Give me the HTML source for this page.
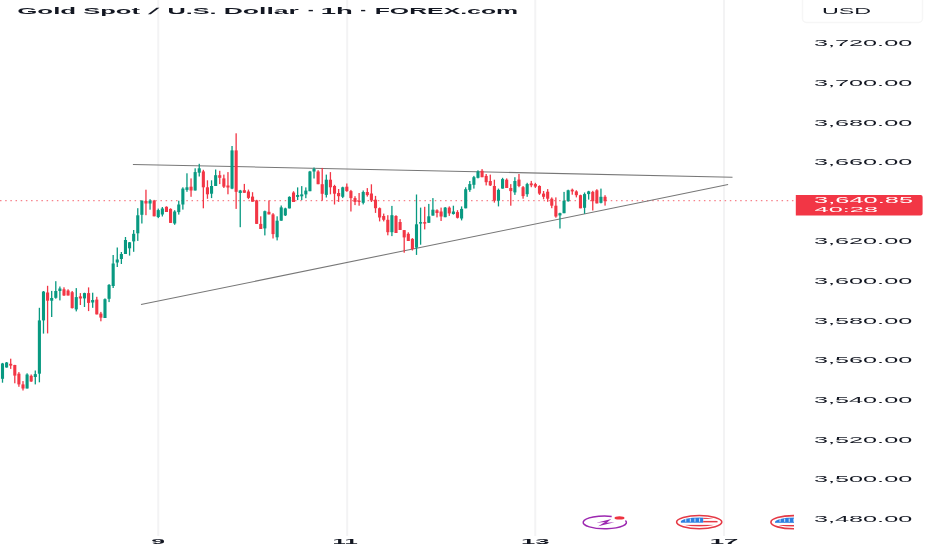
<!DOCTYPE html>
<html><head><meta charset="utf-8"><style>
html,body{margin:0;padding:0;background:#fff;width:932px;height:550px;overflow:hidden}
svg{position:absolute;left:0;top:0}
.t{position:absolute;left:0;top:0;transform-origin:0 0;white-space:pre;font-family:"Liberation Sans",Arial,sans-serif;font-size:100.0px;line-height:1}
#wrap{position:absolute;left:0;top:0;width:932px;height:550px;overflow:hidden;filter:blur(0.4px)}
</style></head><body><div id="wrap">
<svg width="932" height="550" viewBox="0 0 932 550">
<rect x="157.30" y="0" width="2.0" height="536" fill="#f3f3f4"/>
<rect x="346.20" y="0" width="2.0" height="536" fill="#f3f3f4"/>
<rect x="534.30" y="0" width="2.0" height="536" fill="#f3f3f4"/>
<rect x="723.00" y="0" width="2.0" height="536" fill="#f3f3f4"/>
<line x1="0" y1="200.7" x2="794" y2="200.7" stroke="#F23645" stroke-width="1.2" stroke-dasharray="1.5 3.676" opacity="0.62"/>
<line x1="132.9" y1="164.4" x2="732.5" y2="177.2" stroke="#777" stroke-width="1.05"/>
<line x1="141" y1="304.6" x2="728.1" y2="184.5" stroke="#777" stroke-width="1.05"/>
<rect x="1.85" y="362.9" width="1.3" height="19.8" fill="#089981"/>
<rect x="0.95" y="363.5" width="3.1" height="15.3" fill="#089981"/>
<rect x="5.95" y="362.0" width="1.3" height="5.6" fill="#089981"/>
<rect x="5.05" y="362.5" width="3.1" height="5.0" fill="#089981"/>
<rect x="10.05" y="358.7" width="1.3" height="10.2" fill="#F23645"/>
<rect x="9.15" y="363.8" width="3.1" height="1.8" fill="#F23645"/>
<rect x="14.15" y="364.8" width="1.3" height="18.5" fill="#F23645"/>
<rect x="13.25" y="365.0" width="3.1" height="10.6" fill="#F23645"/>
<rect x="18.25" y="372.1" width="1.3" height="14.7" fill="#F23645"/>
<rect x="17.35" y="373.7" width="3.1" height="10.7" fill="#F23645"/>
<rect x="22.35" y="381.1" width="1.3" height="9.4" fill="#F23645"/>
<rect x="21.45" y="384.4" width="3.1" height="4.1" fill="#F23645"/>
<rect x="26.44" y="373.3" width="1.3" height="15.2" fill="#089981"/>
<rect x="25.54" y="374.5" width="3.1" height="14.0" fill="#089981"/>
<rect x="30.54" y="374.5" width="1.3" height="7.4" fill="#F23645"/>
<rect x="29.64" y="375.8" width="3.1" height="5.7" fill="#F23645"/>
<rect x="34.64" y="370.5" width="1.3" height="13.9" fill="#089981"/>
<rect x="33.74" y="374.1" width="3.1" height="2.9" fill="#089981"/>
<rect x="38.74" y="307.8" width="1.3" height="74.5" fill="#089981"/>
<rect x="37.84" y="320.4" width="3.1" height="53.3" fill="#089981"/>
<rect x="42.84" y="291.0" width="1.3" height="42.6" fill="#089981"/>
<rect x="41.94" y="291.6" width="3.1" height="28.8" fill="#089981"/>
<rect x="46.94" y="285.8" width="1.3" height="47.6" fill="#F23645"/>
<rect x="46.04" y="292.5" width="3.1" height="8.2" fill="#F23645"/>
<rect x="51.04" y="290.9" width="1.3" height="26.1" fill="#089981"/>
<rect x="50.14" y="298.0" width="3.1" height="2.7" fill="#089981"/>
<rect x="55.14" y="281.2" width="1.3" height="17.5" fill="#089981"/>
<rect x="54.24" y="291.0" width="3.1" height="6.8" fill="#089981"/>
<rect x="59.24" y="286.5" width="1.3" height="13.9" fill="#089981"/>
<rect x="58.34" y="288.5" width="3.1" height="2.5" fill="#089981"/>
<rect x="63.34" y="287.3" width="1.3" height="8.6" fill="#F23645"/>
<rect x="62.44" y="289.3" width="3.1" height="6.2" fill="#F23645"/>
<rect x="67.43" y="289.3" width="1.3" height="6.2" fill="#F23645"/>
<rect x="66.53" y="290.5" width="3.1" height="5.0" fill="#F23645"/>
<rect x="71.53" y="291.0" width="1.3" height="17.5" fill="#F23645"/>
<rect x="70.63" y="292.2" width="3.1" height="15.9" fill="#F23645"/>
<rect x="75.63" y="288.1" width="1.3" height="23.3" fill="#089981"/>
<rect x="74.73" y="297.1" width="3.1" height="12.3" fill="#089981"/>
<rect x="79.73" y="293.1" width="1.3" height="11.9" fill="#F23645"/>
<rect x="78.83" y="296.4" width="3.1" height="2.1" fill="#F23645"/>
<rect x="83.83" y="292.7" width="1.3" height="14.3" fill="#089981"/>
<rect x="82.93" y="293.1" width="3.1" height="5.3" fill="#089981"/>
<rect x="87.93" y="287.4" width="1.3" height="23.7" fill="#F23645"/>
<rect x="87.03" y="293.1" width="3.1" height="9.8" fill="#F23645"/>
<rect x="92.03" y="292.7" width="1.3" height="15.1" fill="#089981"/>
<rect x="91.13" y="300.0" width="3.1" height="2.5" fill="#089981"/>
<rect x="96.13" y="296.8" width="1.3" height="17.6" fill="#F23645"/>
<rect x="95.23" y="299.6" width="3.1" height="14.8" fill="#F23645"/>
<rect x="100.23" y="311.9" width="1.3" height="9.4" fill="#F23645"/>
<rect x="99.33" y="313.6" width="3.1" height="4.0" fill="#F23645"/>
<rect x="104.33" y="298.4" width="1.3" height="19.6" fill="#089981"/>
<rect x="103.43" y="299.2" width="3.1" height="18.8" fill="#089981"/>
<rect x="108.42" y="284.1" width="1.3" height="18.0" fill="#089981"/>
<rect x="107.52" y="284.9" width="3.1" height="13.9" fill="#089981"/>
<rect x="112.52" y="255.0" width="1.3" height="33.0" fill="#089981"/>
<rect x="111.62" y="263.5" width="3.1" height="22.5" fill="#089981"/>
<rect x="116.62" y="247.5" width="1.3" height="19.5" fill="#089981"/>
<rect x="115.72" y="259.5" width="3.1" height="3.0" fill="#089981"/>
<rect x="120.72" y="252.0" width="1.3" height="12.0" fill="#089981"/>
<rect x="119.82" y="254.0" width="3.1" height="5.0" fill="#089981"/>
<rect x="124.82" y="237.0" width="1.3" height="17.0" fill="#089981"/>
<rect x="123.92" y="240.0" width="3.1" height="14.0" fill="#089981"/>
<rect x="128.92" y="242.0" width="1.3" height="13.6" fill="#089981"/>
<rect x="128.02" y="242.3" width="3.1" height="6.0" fill="#089981"/>
<rect x="133.02" y="230.0" width="1.3" height="21.8" fill="#089981"/>
<rect x="132.12" y="233.8" width="3.1" height="7.6" fill="#089981"/>
<rect x="137.12" y="208.2" width="1.3" height="32.7" fill="#089981"/>
<rect x="136.22" y="215.3" width="3.1" height="18.0" fill="#089981"/>
<rect x="141.22" y="200.5" width="1.3" height="23.0" fill="#089981"/>
<rect x="140.32" y="200.6" width="3.1" height="14.2" fill="#089981"/>
<rect x="145.31" y="189.7" width="1.3" height="25.5" fill="#F23645"/>
<rect x="144.41" y="201.0" width="3.1" height="2.5" fill="#F23645"/>
<rect x="149.41" y="199.2" width="1.3" height="10.5" fill="#089981"/>
<rect x="148.51" y="200.6" width="3.1" height="2.9" fill="#089981"/>
<rect x="153.51" y="199.9" width="1.3" height="16.4" fill="#F23645"/>
<rect x="152.61" y="200.6" width="3.1" height="15.7" fill="#F23645"/>
<rect x="157.61" y="208.6" width="1.3" height="9.5" fill="#089981"/>
<rect x="156.71" y="210.1" width="3.1" height="6.9" fill="#089981"/>
<rect x="161.71" y="207.0" width="1.3" height="9.5" fill="#089981"/>
<rect x="160.81" y="208.5" width="3.1" height="6.0" fill="#089981"/>
<rect x="165.81" y="206.3" width="1.3" height="5.7" fill="#F23645"/>
<rect x="164.91" y="206.8" width="3.1" height="5.2" fill="#F23645"/>
<rect x="169.91" y="208.3" width="1.3" height="14.6" fill="#F23645"/>
<rect x="169.01" y="208.9" width="3.1" height="14.0" fill="#F23645"/>
<rect x="174.01" y="210.2" width="1.3" height="14.6" fill="#089981"/>
<rect x="173.11" y="211.5" width="3.1" height="12.0" fill="#089981"/>
<rect x="178.11" y="200.7" width="1.3" height="13.9" fill="#089981"/>
<rect x="177.21" y="204.5" width="3.1" height="7.6" fill="#089981"/>
<rect x="182.21" y="187.3" width="1.3" height="22.3" fill="#089981"/>
<rect x="181.31" y="188.6" width="3.1" height="15.9" fill="#089981"/>
<rect x="186.31" y="173.3" width="1.3" height="18.5" fill="#089981"/>
<rect x="185.41" y="187.3" width="3.1" height="2.6" fill="#089981"/>
<rect x="190.40" y="178.4" width="1.3" height="18.4" fill="#F23645"/>
<rect x="189.50" y="186.7" width="3.1" height="3.8" fill="#F23645"/>
<rect x="194.50" y="168.3" width="1.3" height="22.2" fill="#089981"/>
<rect x="193.60" y="172.1" width="3.1" height="18.4" fill="#089981"/>
<rect x="198.60" y="163.8" width="1.3" height="12.7" fill="#089981"/>
<rect x="197.70" y="168.3" width="3.1" height="4.4" fill="#089981"/>
<rect x="202.70" y="169.8" width="1.3" height="38.5" fill="#F23645"/>
<rect x="201.80" y="171.4" width="3.1" height="15.9" fill="#F23645"/>
<rect x="206.80" y="180.3" width="1.3" height="18.5" fill="#F23645"/>
<rect x="205.90" y="187.3" width="3.1" height="7.0" fill="#F23645"/>
<rect x="210.90" y="180.3" width="1.3" height="17.8" fill="#089981"/>
<rect x="210.00" y="186.0" width="3.1" height="7.7" fill="#089981"/>
<rect x="215.00" y="169.5" width="1.3" height="16.5" fill="#089981"/>
<rect x="214.10" y="175.2" width="3.1" height="10.8" fill="#089981"/>
<rect x="219.10" y="170.8" width="1.3" height="13.3" fill="#F23645"/>
<rect x="218.20" y="175.2" width="3.1" height="2.6" fill="#F23645"/>
<rect x="223.20" y="174.6" width="1.3" height="13.4" fill="#F23645"/>
<rect x="222.30" y="178.4" width="3.1" height="8.3" fill="#F23645"/>
<rect x="227.30" y="172.1" width="1.3" height="22.2" fill="#F23645"/>
<rect x="226.40" y="185.5" width="3.1" height="2.0" fill="#F23645"/>
<rect x="231.39" y="146.0" width="1.3" height="43.2" fill="#089981"/>
<rect x="230.49" y="150.4" width="3.1" height="38.2" fill="#089981"/>
<rect x="235.49" y="133.3" width="1.3" height="75.6" fill="#F23645"/>
<rect x="234.59" y="150.4" width="3.1" height="41.4" fill="#F23645"/>
<rect x="239.59" y="189.9" width="1.3" height="37.3" fill="#089981"/>
<rect x="238.69" y="190.5" width="3.1" height="2.5" fill="#089981"/>
<rect x="243.69" y="183.9" width="1.3" height="8.9" fill="#F23645"/>
<rect x="242.79" y="190.2" width="3.1" height="2.6" fill="#F23645"/>
<rect x="247.79" y="189.6" width="1.3" height="9.5" fill="#F23645"/>
<rect x="246.89" y="191.5" width="3.1" height="6.4" fill="#F23645"/>
<rect x="251.89" y="192.2" width="1.3" height="9.5" fill="#F23645"/>
<rect x="250.99" y="196.6" width="3.1" height="5.1" fill="#F23645"/>
<rect x="255.99" y="199.8" width="1.3" height="24.1" fill="#F23645"/>
<rect x="255.09" y="200.4" width="3.1" height="23.5" fill="#F23645"/>
<rect x="260.09" y="216.3" width="1.3" height="12.7" fill="#F23645"/>
<rect x="259.19" y="223.9" width="3.1" height="5.1" fill="#F23645"/>
<rect x="264.19" y="210.6" width="1.3" height="24.8" fill="#089981"/>
<rect x="263.29" y="211.2" width="3.1" height="17.2" fill="#089981"/>
<rect x="268.29" y="200.4" width="1.3" height="14.0" fill="#F23645"/>
<rect x="267.38" y="211.8" width="3.1" height="2.6" fill="#F23645"/>
<rect x="272.38" y="213.1" width="1.3" height="25.4" fill="#F23645"/>
<rect x="271.48" y="214.4" width="3.1" height="19.7" fill="#F23645"/>
<rect x="276.48" y="216.3" width="1.3" height="24.1" fill="#089981"/>
<rect x="275.58" y="220.7" width="3.1" height="16.6" fill="#089981"/>
<rect x="280.58" y="205.5" width="1.3" height="15.2" fill="#089981"/>
<rect x="279.68" y="207.4" width="3.1" height="13.3" fill="#089981"/>
<rect x="284.68" y="207.7" width="1.3" height="8.3" fill="#089981"/>
<rect x="283.78" y="208.4" width="3.1" height="7.0" fill="#089981"/>
<rect x="288.78" y="196.3" width="1.3" height="12.1" fill="#089981"/>
<rect x="287.88" y="196.9" width="3.1" height="11.5" fill="#089981"/>
<rect x="292.88" y="191.2" width="1.3" height="10.8" fill="#F23645"/>
<rect x="291.98" y="192.5" width="3.1" height="9.5" fill="#F23645"/>
<rect x="296.98" y="187.4" width="1.3" height="12.7" fill="#089981"/>
<rect x="296.08" y="195.0" width="3.1" height="1.9" fill="#089981"/>
<rect x="301.08" y="186.1" width="1.3" height="14.0" fill="#089981"/>
<rect x="300.18" y="194.4" width="3.1" height="1.9" fill="#089981"/>
<rect x="305.18" y="187.4" width="1.3" height="10.8" fill="#089981"/>
<rect x="304.28" y="190.6" width="3.1" height="3.8" fill="#089981"/>
<rect x="309.28" y="170.9" width="1.3" height="20.3" fill="#089981"/>
<rect x="308.38" y="171.5" width="3.1" height="19.7" fill="#089981"/>
<rect x="313.37" y="167.5" width="1.3" height="11.0" fill="#089981"/>
<rect x="312.47" y="169.0" width="3.1" height="2.5" fill="#089981"/>
<rect x="317.47" y="170.2" width="1.3" height="14.0" fill="#F23645"/>
<rect x="316.57" y="171.5" width="3.1" height="12.7" fill="#F23645"/>
<rect x="321.57" y="167.9" width="1.3" height="32.8" fill="#F23645"/>
<rect x="320.67" y="184.2" width="3.1" height="9.6" fill="#F23645"/>
<rect x="325.67" y="174.6" width="1.3" height="22.9" fill="#089981"/>
<rect x="324.77" y="179.7" width="3.1" height="15.2" fill="#089981"/>
<rect x="329.77" y="172.1" width="1.3" height="22.2" fill="#F23645"/>
<rect x="328.87" y="179.7" width="3.1" height="7.6" fill="#F23645"/>
<rect x="333.87" y="184.8" width="1.3" height="19.7" fill="#F23645"/>
<rect x="332.97" y="186.0" width="3.1" height="7.7" fill="#F23645"/>
<rect x="337.97" y="189.0" width="1.3" height="12.9" fill="#F23645"/>
<rect x="337.07" y="193.0" width="3.1" height="3.2" fill="#F23645"/>
<rect x="342.07" y="186.7" width="1.3" height="11.4" fill="#089981"/>
<rect x="341.17" y="187.3" width="3.1" height="9.5" fill="#089981"/>
<rect x="346.17" y="183.5" width="1.3" height="8.3" fill="#F23645"/>
<rect x="345.27" y="186.7" width="3.1" height="4.4" fill="#F23645"/>
<rect x="350.27" y="189.9" width="1.3" height="21.6" fill="#F23645"/>
<rect x="349.37" y="191.1" width="3.1" height="7.0" fill="#F23645"/>
<rect x="354.36" y="196.2" width="1.3" height="8.9" fill="#F23645"/>
<rect x="353.46" y="198.1" width="3.1" height="3.8" fill="#F23645"/>
<rect x="358.46" y="193.0" width="1.3" height="12.7" fill="#F23645"/>
<rect x="357.56" y="200.7" width="3.1" height="1.2" fill="#F23645"/>
<rect x="362.56" y="190.5" width="1.3" height="13.9" fill="#089981"/>
<rect x="361.66" y="192.0" width="3.1" height="10.8" fill="#089981"/>
<rect x="366.66" y="188.1" width="1.3" height="8.5" fill="#F23645"/>
<rect x="365.76" y="192.0" width="3.1" height="3.1" fill="#F23645"/>
<rect x="370.76" y="184.3" width="1.3" height="17.7" fill="#F23645"/>
<rect x="369.86" y="193.5" width="3.1" height="7.0" fill="#F23645"/>
<rect x="374.86" y="195.9" width="1.3" height="17.0" fill="#F23645"/>
<rect x="373.96" y="199.7" width="3.1" height="8.5" fill="#F23645"/>
<rect x="378.96" y="207.5" width="1.3" height="13.9" fill="#F23645"/>
<rect x="378.06" y="208.2" width="3.1" height="9.3" fill="#F23645"/>
<rect x="383.06" y="213.6" width="1.3" height="7.8" fill="#F23645"/>
<rect x="382.16" y="216.0" width="3.1" height="3.8" fill="#F23645"/>
<rect x="387.16" y="215.2" width="1.3" height="20.1" fill="#F23645"/>
<rect x="386.26" y="219.8" width="3.1" height="12.4" fill="#F23645"/>
<rect x="391.26" y="205.9" width="1.3" height="30.2" fill="#089981"/>
<rect x="390.36" y="215.2" width="3.1" height="17.0" fill="#089981"/>
<rect x="395.35" y="215.2" width="1.3" height="17.8" fill="#F23645"/>
<rect x="394.45" y="216.0" width="3.1" height="17.0" fill="#F23645"/>
<rect x="399.45" y="219.1" width="1.3" height="10.9" fill="#F23645"/>
<rect x="398.55" y="222.0" width="3.1" height="8.0" fill="#F23645"/>
<rect x="403.55" y="230.1" width="1.3" height="22.6" fill="#F23645"/>
<rect x="402.65" y="230.1" width="3.1" height="7.3" fill="#F23645"/>
<rect x="407.65" y="232.3" width="1.3" height="8.7" fill="#F23645"/>
<rect x="406.75" y="233.8" width="3.1" height="7.2" fill="#F23645"/>
<rect x="411.75" y="238.1" width="1.3" height="12.4" fill="#F23645"/>
<rect x="410.85" y="238.9" width="3.1" height="10.1" fill="#F23645"/>
<rect x="415.85" y="194.5" width="1.3" height="60.4" fill="#089981"/>
<rect x="414.95" y="224.3" width="3.1" height="23.3" fill="#089981"/>
<rect x="419.95" y="207.6" width="1.3" height="37.1" fill="#089981"/>
<rect x="419.05" y="222.1" width="3.1" height="1.5" fill="#089981"/>
<rect x="424.05" y="206.8" width="1.3" height="22.6" fill="#F23645"/>
<rect x="423.15" y="222.1" width="3.1" height="1.5" fill="#F23645"/>
<rect x="428.15" y="203.9" width="1.3" height="18.9" fill="#089981"/>
<rect x="427.25" y="216.3" width="3.1" height="6.5" fill="#089981"/>
<rect x="432.25" y="198.1" width="1.3" height="17.5" fill="#089981"/>
<rect x="431.35" y="209.7" width="3.1" height="5.9" fill="#089981"/>
<rect x="436.34" y="209.3" width="1.3" height="8.1" fill="#F23645"/>
<rect x="435.44" y="210.3" width="3.1" height="2.7" fill="#F23645"/>
<rect x="440.44" y="207.6" width="1.3" height="13.4" fill="#F23645"/>
<rect x="439.54" y="211.5" width="3.1" height="5.0" fill="#F23645"/>
<rect x="444.54" y="207.0" width="1.3" height="10.2" fill="#089981"/>
<rect x="443.64" y="207.6" width="3.1" height="9.6" fill="#089981"/>
<rect x="448.64" y="206.4" width="1.3" height="9.5" fill="#F23645"/>
<rect x="447.74" y="207.6" width="3.1" height="5.8" fill="#F23645"/>
<rect x="452.74" y="205.7" width="1.3" height="8.9" fill="#089981"/>
<rect x="451.84" y="211.5" width="3.1" height="2.5" fill="#089981"/>
<rect x="456.84" y="210.2" width="1.3" height="8.3" fill="#F23645"/>
<rect x="455.94" y="212.1" width="3.1" height="5.7" fill="#F23645"/>
<rect x="460.94" y="206.4" width="1.3" height="14.0" fill="#089981"/>
<rect x="460.04" y="208.9" width="3.1" height="9.6" fill="#089981"/>
<rect x="465.04" y="187.3" width="1.3" height="21.0" fill="#089981"/>
<rect x="464.14" y="189.2" width="3.1" height="19.1" fill="#089981"/>
<rect x="469.14" y="181.0" width="1.3" height="10.8" fill="#089981"/>
<rect x="468.24" y="184.1" width="3.1" height="5.8" fill="#089981"/>
<rect x="473.24" y="175.9" width="1.3" height="12.7" fill="#089981"/>
<rect x="472.34" y="177.2" width="3.1" height="7.6" fill="#089981"/>
<rect x="477.33" y="170.3" width="1.3" height="8.1" fill="#089981"/>
<rect x="476.43" y="171.5" width="3.1" height="6.3" fill="#089981"/>
<rect x="481.43" y="169.1" width="1.3" height="8.1" fill="#F23645"/>
<rect x="480.53" y="170.8" width="3.1" height="6.4" fill="#F23645"/>
<rect x="485.53" y="174.0" width="1.3" height="11.4" fill="#F23645"/>
<rect x="484.63" y="175.9" width="3.1" height="6.3" fill="#F23645"/>
<rect x="489.63" y="174.6" width="1.3" height="11.4" fill="#F23645"/>
<rect x="488.73" y="181.0" width="3.1" height="4.4" fill="#F23645"/>
<rect x="493.73" y="179.7" width="1.3" height="22.9" fill="#F23645"/>
<rect x="492.83" y="186.0" width="3.1" height="14.7" fill="#F23645"/>
<rect x="497.83" y="188.6" width="1.3" height="17.8" fill="#089981"/>
<rect x="496.93" y="189.9" width="3.1" height="10.8" fill="#089981"/>
<rect x="501.93" y="177.8" width="1.3" height="10.8" fill="#089981"/>
<rect x="501.03" y="179.1" width="3.1" height="9.5" fill="#089981"/>
<rect x="506.03" y="178.4" width="1.3" height="9.6" fill="#F23645"/>
<rect x="505.13" y="179.7" width="3.1" height="8.3" fill="#F23645"/>
<rect x="510.13" y="184.1" width="1.3" height="21.6" fill="#F23645"/>
<rect x="509.23" y="188.0" width="3.1" height="3.1" fill="#F23645"/>
<rect x="514.23" y="177.2" width="1.3" height="17.7" fill="#089981"/>
<rect x="513.33" y="181.0" width="3.1" height="11.4" fill="#089981"/>
<rect x="518.32" y="174.0" width="1.3" height="13.2" fill="#F23645"/>
<rect x="517.42" y="179.6" width="3.1" height="6.4" fill="#F23645"/>
<rect x="522.42" y="186.0" width="1.3" height="12.7" fill="#F23645"/>
<rect x="521.52" y="187.2" width="3.1" height="8.9" fill="#F23645"/>
<rect x="526.52" y="182.8" width="1.3" height="14.0" fill="#089981"/>
<rect x="525.62" y="184.1" width="3.1" height="10.1" fill="#089981"/>
<rect x="530.62" y="180.9" width="1.3" height="6.3" fill="#F23645"/>
<rect x="529.72" y="183.4" width="3.1" height="1.9" fill="#F23645"/>
<rect x="534.72" y="182.8" width="1.3" height="5.1" fill="#F23645"/>
<rect x="533.82" y="184.1" width="3.1" height="2.5" fill="#F23645"/>
<rect x="538.82" y="185.3" width="1.3" height="9.6" fill="#F23645"/>
<rect x="537.92" y="186.0" width="3.1" height="7.6" fill="#F23645"/>
<rect x="542.92" y="191.0" width="1.3" height="8.3" fill="#F23645"/>
<rect x="542.02" y="193.6" width="3.1" height="3.2" fill="#F23645"/>
<rect x="547.02" y="189.1" width="1.3" height="12.7" fill="#F23645"/>
<rect x="546.12" y="191.7" width="3.1" height="7.0" fill="#F23645"/>
<rect x="551.12" y="197.4" width="1.3" height="10.8" fill="#F23645"/>
<rect x="550.22" y="198.7" width="3.1" height="7.0" fill="#F23645"/>
<rect x="555.22" y="197.4" width="1.3" height="20.3" fill="#F23645"/>
<rect x="554.32" y="205.7" width="3.1" height="10.8" fill="#F23645"/>
<rect x="559.31" y="212.7" width="1.3" height="15.8" fill="#089981"/>
<rect x="558.41" y="213.2" width="3.1" height="2.2" fill="#089981"/>
<rect x="563.41" y="191.9" width="1.3" height="21.3" fill="#089981"/>
<rect x="562.51" y="200.7" width="3.1" height="12.5" fill="#089981"/>
<rect x="567.51" y="189.7" width="1.3" height="12.0" fill="#089981"/>
<rect x="566.61" y="190.3" width="3.1" height="10.9" fill="#089981"/>
<rect x="571.61" y="188.6" width="1.3" height="6.1" fill="#F23645"/>
<rect x="570.71" y="189.7" width="3.1" height="1.7" fill="#F23645"/>
<rect x="575.71" y="190.3" width="1.3" height="7.1" fill="#F23645"/>
<rect x="574.81" y="191.4" width="3.1" height="3.8" fill="#F23645"/>
<rect x="579.81" y="194.7" width="1.3" height="13.6" fill="#F23645"/>
<rect x="578.91" y="195.2" width="3.1" height="13.1" fill="#F23645"/>
<rect x="583.91" y="192.5" width="1.3" height="21.3" fill="#089981"/>
<rect x="583.01" y="194.1" width="3.1" height="13.7" fill="#089981"/>
<rect x="588.01" y="190.8" width="1.3" height="8.8" fill="#089981"/>
<rect x="587.11" y="191.4" width="3.1" height="2.7" fill="#089981"/>
<rect x="592.11" y="190.8" width="1.3" height="19.7" fill="#F23645"/>
<rect x="591.21" y="191.9" width="3.1" height="9.3" fill="#F23645"/>
<rect x="596.21" y="189.2" width="1.3" height="14.2" fill="#F23645"/>
<rect x="595.31" y="190.3" width="3.1" height="13.1" fill="#F23645"/>
<rect x="600.30" y="188.6" width="1.3" height="14.8" fill="#089981"/>
<rect x="599.40" y="196.8" width="3.1" height="6.0" fill="#089981"/>
<rect x="604.40" y="195.2" width="1.3" height="10.4" fill="#F23645"/>
<rect x="603.50" y="196.8" width="3.1" height="4.4" fill="#F23645"/>
<g>
<path d="M 611.7 516.4 A 21.65 6.35 0 1 0 625.45 520.5" fill="none" stroke="#9C27B0" stroke-width="1.5"/>
<ellipse cx="619.5" cy="517.9" rx="5.0" ry="1.7" fill="#EE3340"/>
<path d="M 611.3 518.9 L 596.4 522.7 L 605.0 522.1 L 598.2 526.2 L 614.4 522.3 L 606.6 522.7 Z" fill="#9C27B0"/>
<g transform="translate(699.2,522.1)"><ellipse cx="0" cy="0" rx="22.6" ry="6.6" fill="#fff" stroke="#E53945" stroke-width="1.6"/><clipPath id="fc699"><ellipse cx="0" cy="0" rx="18.5" ry="4.6"/></clipPath><g clip-path="url(#fc699)"><rect x="-19" y="-5" width="38" height="10" fill="#fff"/><rect x="-19" y="-5" width="23" height="5.6" fill="#2D7FE0"/><rect x="4" y="-1.2" width="15" height="1.5" fill="#E53945"/><rect x="4" y="-4.6" width="15" height="1.4" fill="#E53945"/><rect x="-19" y="2.8" width="38" height="1.6" fill="#E53945"/><rect x="-14.0" y="-3.6" width="1.1" height="3.2" fill="#cfe2ff"/><rect x="-9.4" y="-3.6" width="1.1" height="3.2" fill="#cfe2ff"/><rect x="-4.8" y="-3.6" width="1.1" height="3.2" fill="#cfe2ff"/><rect x="-0.2" y="-3.6" width="1.1" height="3.2" fill="#cfe2ff"/></g></g>
</g>
<clipPath id="paneclip"><rect x="0" y="0" width="794" height="550"/></clipPath>
<g clip-path="url(#paneclip)"><g transform="translate(793.5,522.2)"><ellipse cx="0" cy="0" rx="22.6" ry="6.6" fill="#fff" stroke="#E53945" stroke-width="1.6"/><clipPath id="fc793"><ellipse cx="0" cy="0" rx="18.5" ry="4.6"/></clipPath><g clip-path="url(#fc793)"><rect x="-19" y="-5" width="38" height="10" fill="#fff"/><rect x="-19" y="-5" width="23" height="5.6" fill="#2D7FE0"/><rect x="4" y="-1.2" width="15" height="1.5" fill="#E53945"/><rect x="4" y="-4.6" width="15" height="1.4" fill="#E53945"/><rect x="-19" y="2.8" width="38" height="1.6" fill="#E53945"/><rect x="-14.0" y="-3.6" width="1.1" height="3.2" fill="#cfe2ff"/><rect x="-9.4" y="-3.6" width="1.1" height="3.2" fill="#cfe2ff"/><rect x="-4.8" y="-3.6" width="1.1" height="3.2" fill="#cfe2ff"/><rect x="-0.2" y="-3.6" width="1.1" height="3.2" fill="#cfe2ff"/></g></g></g>
<path d="M 795.8 195 H 920.6 Q 922.6 195 922.6 197 V 213.6 Q 922.6 215.6 920.6 215.6 H 795.8 Z" fill="#F23645"/>
<rect x="802.5" y="-4" width="120" height="26.5" rx="4" fill="none" stroke="#f6f6f6" stroke-width="1.5"/>
</svg>
<div class="t" style="font-weight:700;color:#131722;transform:matrix(0.25899,0,0,0.08723,17.164,6.653)">Gold</div>
<div class="t" style="font-weight:700;color:#131722;transform:matrix(0.25596,0,0,0.08723,83.132,6.653)">Spot</div>
<div class="t" style="font-weight:700;color:#131722;transform:matrix(0.25,0,-0.068,0.08723,153.466,6.653)">/</div>
<div class="t" style="font-weight:700;color:#131722;transform:matrix(0.25275,0,0,0.08723,167.384,6.653)">U.S.</div>
<div class="t" style="font-weight:700;color:#131722;transform:matrix(0.26545,0,0,0.08723,223.642,6.653)">Dollar</div>
<div class="t" style="font-weight:700;color:#131722;transform:matrix(0.30714,0,0,0.08723,306.450,6.653)">·</div>
<div class="t" style="font-weight:700;color:#131722;transform:matrix(0.27524,0,0,0.08723,320.649,6.653)">1h</div>
<div class="t" style="font-weight:700;color:#131722;transform:matrix(0.30000,0,0,0.08723,358.900,6.653)">·</div>
<div class="t" style="font-weight:700;color:#131722;transform:matrix(0.24832,0,0,0.08723,374.662,6.653)">FOREX.com</div>
<div class="t" style="font-weight:400;color:#131722;transform:matrix(0.23216,0,0,0.08592,821.943,6.611);">USD</div>
<div class="t" style="font-weight:400;color:#131722;transform:matrix(0.25262,0,0,0.08239,813.890,39.364);">3,720.00</div>
<div class="t" style="font-weight:400;color:#131722;transform:matrix(0.25262,0,0,0.08239,813.890,78.984);">3,700.00</div>
<div class="t" style="font-weight:400;color:#131722;transform:matrix(0.25262,0,0,0.08239,813.890,118.604);">3,680.00</div>
<div class="t" style="font-weight:400;color:#131722;transform:matrix(0.25262,0,0,0.08239,813.890,158.224);">3,660.00</div>
<div class="t" style="font-weight:400;color:#131722;transform:matrix(0.25262,0,0,0.08239,813.890,237.464);">3,620.00</div>
<div class="t" style="font-weight:400;color:#131722;transform:matrix(0.25262,0,0,0.08239,813.890,277.084);">3,600.00</div>
<div class="t" style="font-weight:400;color:#131722;transform:matrix(0.25262,0,0,0.08239,813.890,316.704);">3,580.00</div>
<div class="t" style="font-weight:400;color:#131722;transform:matrix(0.25262,0,0,0.08239,813.890,356.324);">3,560.00</div>
<div class="t" style="font-weight:400;color:#131722;transform:matrix(0.25262,0,0,0.08239,813.890,395.944);">3,540.00</div>
<div class="t" style="font-weight:400;color:#131722;transform:matrix(0.25262,0,0,0.08239,813.890,435.564);">3,520.00</div>
<div class="t" style="font-weight:400;color:#131722;transform:matrix(0.25262,0,0,0.08239,813.890,475.184);">3,500.00</div>
<div class="t" style="font-weight:400;color:#131722;transform:matrix(0.25262,0,0,0.08239,813.890,514.804);">3,480.00</div>
<div class="t" style="font-weight:700;color:#131722;transform:matrix(0.24694,0,0,0.07887,151.259,536.817);">9</div>
<div class="t" style="font-weight:700;color:#131722;transform:matrix(0.23918,0,0,0.08116,332.565,536.701);">11</div>
<div class="t" style="font-weight:700;color:#131722;transform:matrix(0.25686,0,0,0.07887,521.059,536.817);">13</div>
<div class="t" style="font-weight:700;color:#131722;transform:matrix(0.25842,0,0,0.08116,709.650,536.701);">17</div>
<div class="t" style="font-weight:400;color:#ffffff;transform:matrix(0.25433,0,0,0.08592,814.083,195.511);">3,640.85</div>
<div class="t" style="font-weight:400;color:#ffffff;transform:matrix(0.25328,0,0,0.07887,814.593,205.417);">40:28</div>
</div></body></html>
